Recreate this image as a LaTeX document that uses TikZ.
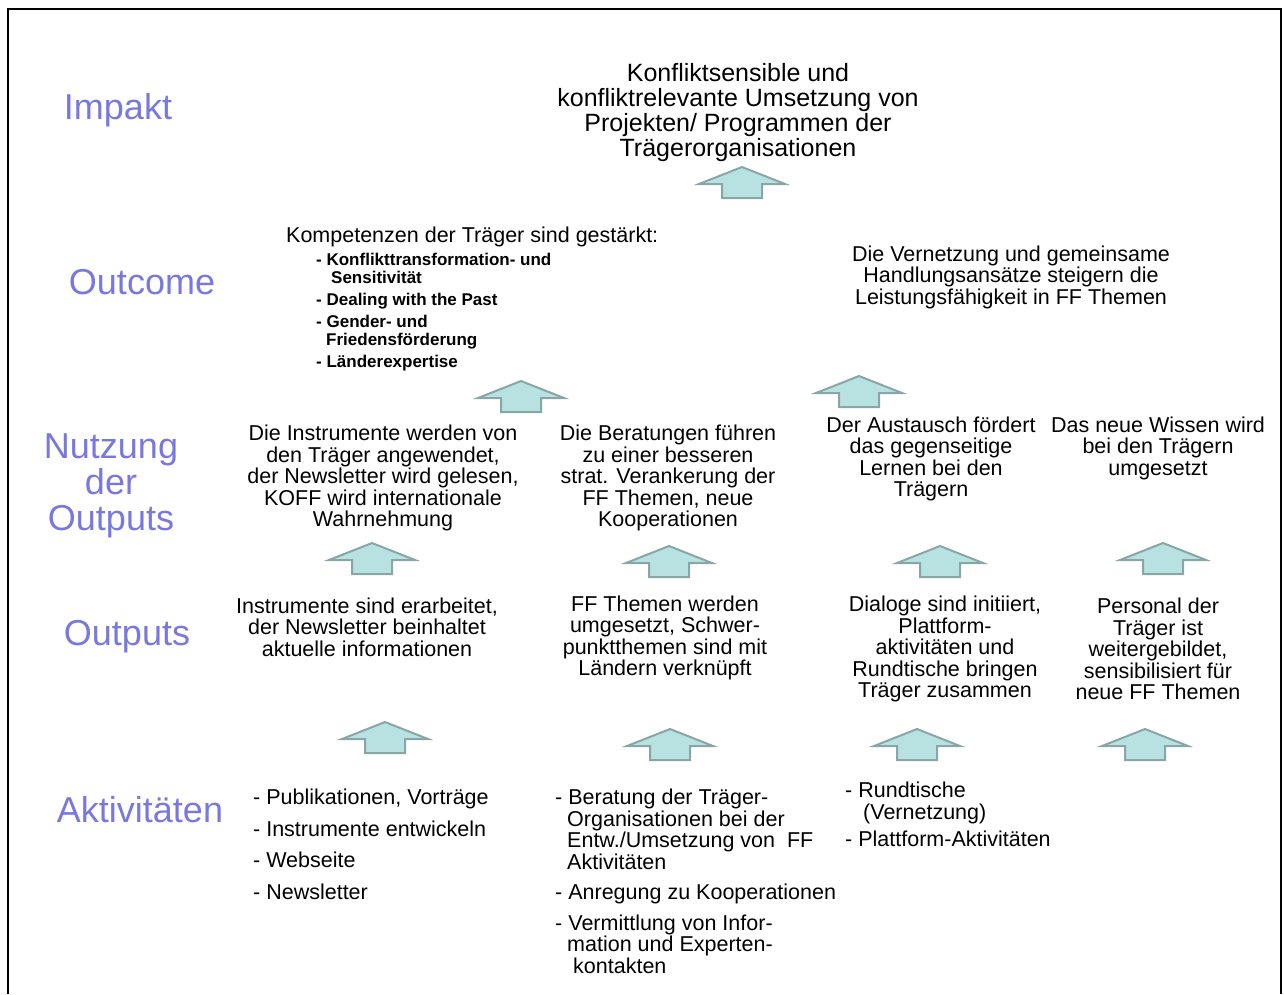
\documentclass[tikz,border=0pt]{standalone}
\usepackage{fontspec}
\setmainfont{Liberation Sans}
\definecolor{stufenblau}{RGB}{120,120,222}
\definecolor{pfeilfill}{RGB}{184,226,226}
\definecolor{pfeilrand}{RGB}{136,166,166}
\tikzset{
  pfeil/.pic={
    \draw[fill=pfeilfill,draw=pfeilrand,line width=2pt,line join=miter]
      (0,1)--(43,18)--(20,18)--(20,32)--(-20,32)--(-20,18)--(-43,18)--cycle;
  }
}
\begin{document}
\begin{tikzpicture}[x=1pt,y=-1pt,
  stufe/.style={text=stufenblau,font=\fontsize{36}{36}\selectfont,align=center,inner sep=0},
  ziel/.style={font=\fontsize{25}{25}\selectfont,align=center,inner sep=0},
  textblock/.style={font=\fontsize{21.5}{21.5}\selectfont,align=center,inner sep=0},
  liste/.style={font=\fontsize{21.5}{21.5}\selectfont,align=left,inner sep=0,anchor=north west},
  kleinliste/.style={font=\bfseries\fontsize{17}{18}\selectfont,align=left,inner sep=0,anchor=north west}]
	\useasboundingbox (0,0) rectangle (1284,994);
	\draw[line width=2.5pt] (8,994)--(8,9)--(1281,9)--(1281,994);
	% Stufen links
	\node[stufe] (impakt) at (118,110) {Impakt};
	\node[stufe] (outcome) at (142,282) {Outcome};
	\node[stufe] (nutzung) at (111,486) {Nutzung\\der\\Outputs};
	\node[stufe] (outputs) at (127,637) {Outputs};
	\node[stufe] (aktiv) at (140,810) {Aktivitäten};
	% Impakt
	\node[ziel] (ziel) at (738,113) {Konfliktsensible und\\konfliktrelevante Umsetzung von\\Projekten/ Programmen der\\Trägerorganisationen};
	\pic at (742,166) {pfeil};
	% Outcome
	\node[textblock,anchor=west] (komp) at (286,237) {Kompetenzen der Träger sind gestärkt:};
	\node[kleinliste] (kompliste) at (316,253) {- Konflikttransformation- und\\
		\hspace*{15pt}Sensitivität\\[4pt]
		- Dealing with the Past\\[4pt]
		- Gender- und\\
		\hspace*{10pt}Friedensförderung\\[4pt]
		- Länderexpertise};
	\node[textblock] (vernetz) at (1011,277) {Die Vernetzung und gemeinsame\\Handlungsansätze steigern die\\Leistungsfähigkeit in FF Themen};
	\pic at (521,380) {pfeil};
	\pic at (859,375) {pfeil};
	% Nutzung der Outputs
	\node[textblock] (nutz1) at (383,478) {Die Instrumente werden von\\den Träger angewendet,\\der Newsletter wird gelesen,\\KOFF wird internationale\\Wahrnehmung};
	\node[textblock] (nutz2) at (668,478) {Die Beratungen führen\\zu einer besseren\\strat. Verankerung der\\FF Themen, neue\\Kooperationen};
	\node[textblock] (nutz3) at (931,459) {Der Austausch fördert\\das gegenseitige\\Lernen bei den\\Trägern};
	\node[textblock] (nutz4) at (1158,448) {Das neue Wissen wird\\bei den Trägern\\umgesetzt};
	\pic at (372,542) {pfeil};
	\pic at (669,545) {pfeil};
	\pic at (940,545) {pfeil};
	\pic at (1163,542) {pfeil};
	% Outputs
	\node[textblock] (out1) at (367,627) {Instrumente sind erarbeitet,\\der Newsletter beinhaltet\\aktuelle informationen};
	\node[textblock] (out2) at (665,638) {FF Themen werden\\umgesetzt, Schwer-\\punktthemen sind mit\\Ländern verknüpft};
	\node[textblock] (out3) at (945,649) {Dialoge sind initiiert,\\Plattform-\\aktivitäten und\\Rundtische bringen\\Träger zusammen};
	\node[textblock] (out4) at (1158,649) {Personal der\\Träger ist\\weitergebildet,\\sensibilisiert für\\neue FF Themen};
	\pic at (385,721) {pfeil};
	\pic at (670,728) {pfeil};
	\pic at (917,728) {pfeil};
	\pic at (1145,728) {pfeil};
	% Aktivitaeten
	\node[liste] (akt1) at (253,789) {- Publikationen, Vorträge\\[10pt]
		- Instrumente entwickeln\\[10pt]
		- Webseite\\[10pt]
		- Newsletter};
	\node[liste] (akt2) at (555,789) {- Beratung der Träger-\\
		\hspace*{12pt}Organisationen bei der\\
		\hspace*{12pt}Entw./Umsetzung von\ \ FF\\
		\hspace*{12pt}Aktivitäten\\[9pt]
		- Anregung zu Kooperationen\\[9pt]
		- Vermittlung von Infor-\\
		\hspace*{12pt}mation und Experten-\\
		\hspace*{18pt}kontakten};
	\node[liste] (akt3) at (845,782) {- Rundtische\\
		\hspace*{18pt}(Vernetzung)\\[6pt]
		- Plattform-Aktivitäten};
\end{tikzpicture}
\end{document}
